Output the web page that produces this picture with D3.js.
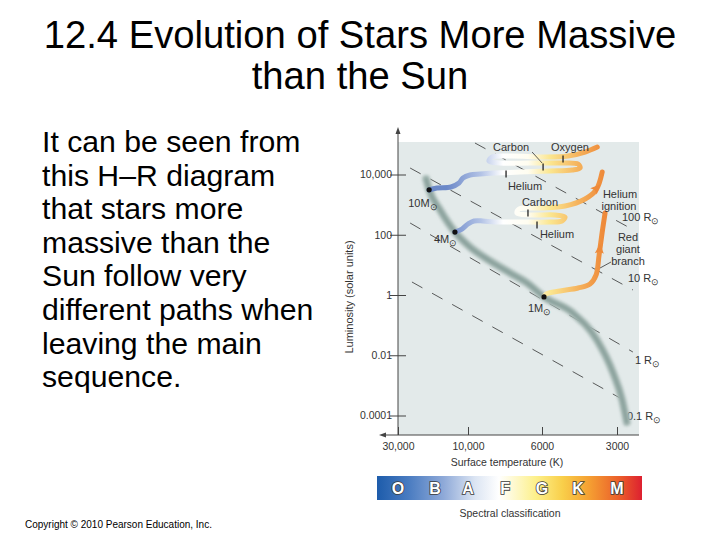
<!DOCTYPE html>
<html>
<head>
<meta charset="utf-8">
<script src="https://cdn.jsdelivr.net/npm/d3@7"></script>
<style>
body { margin: 0; background: #fff; }
text { font-family: "Liberation Sans", Arial, Helvetica, sans-serif; }
</style>
</head>
<body>
<div id="slide"></div>
<script>
// slide text
var titleLines = ["12.4 Evolution of Stars More Massive", "than the Sun"];
var bodyLines = ["It can be seen from", "this H\u2013R diagram", "that stars more", "massive than the",
                 "Sun follow very", "different paths when", "leaving the main", "sequence."];
var copyrightText = "Copyright \u00a9 2010 Pearson Education, Inc.";

// axes
var tempTicks = [30000, 10000, 6000, 3000];
var tempTickLabels = ["30,000", "10,000", "6000", "3000"];
var lumTicks = [0.0001, 0.01, 1, 100, 10000];
var lumTickLabels = ["0.0001", "0.01", "1", "100", "10,000"];

// main sequence  [T (K), L (solar)]
var mainSequence = [[19300, 7100], [18400, 3100], [15500, 665], [12270, 123], [9860, 39], [8590, 13.5],
                    [7480, 5.4], [6650, 2.5], [5890, 0.86], [4510, 0.25], [3610, 0.032], [3110, 0.0026],
                    [2860, 0.00033], [2740, 0.00006]];

// evolutionary tracks [T, L]
var track10 = [[18400, 3060], [16300, 3560], [13060, 3850], [11520, 5220], [10820, 7650], [9860, 9620],
               [9200, 10400], [8300, 11200], [6980, 12100], [5570, 13070], [4545, 14100], [4220, 16400],
               [4300, 22300], [5080, 24100], [6520, 24100], [8020, 24100], [8650, 28100], [8470, 38100],
               [7480, 41100], [5830, 38100], [4720, 41100], [4030, 55800], [3600, 81800]];
var track4 = [[12270, 123], [10990, 155], [10000, 227], [9590, 286], [9020, 286], [8300, 265], [6980, 265],
              [5570, 265], [4990, 286], [4850, 388], [5320, 453], [6520, 453], [7130, 527], [7030, 716],
              [6080, 773], [4850, 900], [4030, 1540], [3640, 3060], [3440, 12100]];
var track1 = [[5890, 0.86], [5780, 1.08], [5080, 1.36], [4300, 1.71], [3850, 2.32], [3640, 4.61],
              [3540, 21.3], [3440, 123], [3350, 527]];

// arrows on tracks: tail [T,L], head [T,L]
var arrowTail = [[3560, 10], [3920, 1790]];
var arrowHead = [[3520, 35], [3610, 3600]];

// stellar masses
var massNames = ["10", "4", "1"];
var massT = [18400, 12270, 5890];
var massL = [3100, 123, 0.86];
var massLabelOffset = [[-21, 17], [-21, 11], [-16, 15]];

// lines of constant radius
var radiusNames = ["100", "10", "1", "0.1"];
var radiusStart = [[9530, 111000], [24800, 16400], [24800, 245], [24100, 2.7]];
var radiusEnd = [[2660, 167], [2590, 1.47], [2590, 0.0128], [2590, 0.00022]];
var radiusLabelOffset = [[-8, -7], [-5, -8], [2, 12], [-6, 15]];

// burning phases marked on the tracks
var phaseNames = ["Helium", "Carbon", "Oxygen", "Carbon", "Helium"];
var phaseT = [7690, 5940, 4940, 6610, 6210];
var phaseL = [10400, 17700, 32700, 527, 211];
var phaseLabelOffset = [[19, 16], [-32, -16], [7, -8], [12, -7], [20, 13]];

// spectral classes
var spectralClasses = ["O", "B", "A", "F", "G", "K", "M"];
var spectralT = [30000, 16800, 10000, 7740, 6000, 4300, 3000];

var width = 720, height = 540;
var plotLeft = 398, plotRight = 639, plotTop = 142, plotBottom = 435;

var svg = d3.select("#slide").append("svg")
    .attr("width", width)
    .attr("height", height);

var defs = svg.append("defs");
defs.append("filter").attr("id", "blurMs").attr("x", "-20%").attr("y", "-20%").attr("width", "140%").attr("height", "140%")
    .append("feGaussianBlur").attr("stdDeviation", 1.5);
defs.append("filter").attr("id", "blurTrack").attr("x", "-20%").attr("y", "-20%").attr("width", "140%").attr("height", "140%")
    .append("feGaussianBlur").attr("stdDeviation", 0.7);

// scales (temperature axis is non-uniform in the figure, so polylinear log)
var x = d3.scaleLog().domain(tempTicks).range([398, 468, 542, 617]);
var y = d3.scaleLog().domain([0.0001, 10000]).range([415.5, 174.5]);

// ---- title + body text
svg.selectAll(".title")
    .data(titleLines)
    .enter().append("text")
    .attr("class", "title")
    .attr("x", 360)
    .attr("y", function(d, i) { return 48 + i * 41; })
    .style("text-anchor", "middle")
    .style("font-size", "38.2px")
    .style("fill", "#000")
    .text(function(d) { return d; });

svg.selectAll(".body")
    .data(bodyLines)
    .enter().append("text")
    .attr("class", "body")
    .attr("x", 42)
    .attr("y", function(d, i) { return 152 + i * 33.6; })
    .style("font-size", "30.2px")
    .style("fill", "#000")
    .text(function(d) { return d; });

svg.append("text")
    .attr("x", 25)
    .attr("y", 528)
    .style("font-size", "10px")
    .style("fill", "#000")
    .text(copyrightText);

// ---- plot panel
svg.append("rect")
    .attr("x", plotLeft)
    .attr("y", plotTop)
    .attr("width", plotRight - plotLeft)
    .attr("height", plotBottom - plotTop)
    .style("fill", "#e3eaea");

var g = svg.append("g");

// radius lines
g.selectAll(".radius")
    .data(radiusNames)
    .enter().append("line")
    .attr("class", "radius")
    .attr("x1", function(d, i) { return x(radiusStart[i][0]); })
    .attr("y1", function(d, i) { return y(radiusStart[i][1]); })
    .attr("x2", function(d, i) { return x(radiusEnd[i][0]); })
    .attr("y2", function(d, i) { return y(radiusEnd[i][1]); })
    .style("stroke", "#333")
    .style("stroke-width", 0.8)
    .style("stroke-dasharray", "12,11");

var radiusText = g.selectAll(".radiusLabel")
    .data(radiusNames)
    .enter().append("text")
    .attr("class", "radiusLabel")
    .attr("x", function(d, i) { return x(radiusEnd[i][0]) + radiusLabelOffset[i][0]; })
    .attr("y", function(d, i) { return y(radiusEnd[i][1]) + radiusLabelOffset[i][1]; })
    .style("font-size", "11px")
    .style("fill", "#333");
radiusText.append("tspan").text(function(d) { return d + " R"; });
radiusText.append("tspan").attr("dy", 3).style("font-size", "9px").text("\u2299");

// main sequence band (x only grows along it, so a monotone curve keeps it smooth)
var msLine = d3.line()
    .x(function(d) { return x(d[0]); })
    .y(function(d) { return y(d[1]); })
    .curve(d3.curveMonotoneX);

var line = d3.line()
    .x(function(d) { return x(d[0]); })
    .y(function(d) { return y(d[1]); })
    .curve(d3.curveCatmullRom);

g.append("path")
    .attr("d", msLine(mainSequence))
    .style("fill", "none")
    .style("stroke", "#aabcb8")
    .style("stroke-width", 8)
    .style("stroke-linecap", "round")
    .attr("filter", "url(#blurMs)");
g.append("path")
    .attr("d", msLine(mainSequence))
    .style("fill", "none")
    .style("stroke", "#849c97")
    .style("stroke-width", 3)
    .style("stroke-linecap", "round")
    .attr("filter", "url(#blurMs)");

// colour along tracks: blue (hot) -> white -> yellow -> orange (cool)
var grad = defs.append("linearGradient")
    .attr("id", "trackGrad")
    .attr("gradientUnits", "userSpaceOnUse")
    .attr("x1", x(14000)).attr("y1", 0)
    .attr("x2", x(3400)).attr("y2", 0);
var gradStops = [[0, "#6b88c8"], [0.22, "#b3c3e6"], [0.36, "#ffffff"], [0.52, "#fffdf0"],
                 [0.66, "#fbe68f"], [0.84, "#f5b25c"], [1, "#ee8a3a"]];
grad.selectAll("stop")
    .data(gradStops)
    .enter().append("stop")
    .attr("offset", function(d) { return d[0]; })
    .attr("stop-color", function(d) { return d[1]; });

var tracks = [track10, track4, track1];
g.selectAll(".track")
    .data(tracks)
    .enter().append("path")
    .attr("class", "track")
    .attr("d", function(d) { return line(d); })
    .style("fill", "none")
    .style("stroke", "url(#trackGrad)")
    .style("stroke-width", 5)
    .style("stroke-linecap", "round")
    .style("stroke-linejoin", "round")
    .attr("filter", "url(#blurTrack)");

// arrowheads
g.selectAll(".arrow")
    .data(arrowHead)
    .enter().append("path")
    .attr("class", "arrow")
    .attr("d", "M5,0 L-5,-4.5 L-3,0 L-5,4.5 Z")
    .attr("transform", function(d, i) {
        var hx = x(d[0]), hy = y(d[1]);
        var tx = x(arrowTail[i][0]), ty = y(arrowTail[i][1]);
        var a = Math.atan2(hy - ty, hx - tx) * 180 / Math.PI;
        return "translate(" + hx + "," + hy + ") rotate(" + a + ")";
    })
    .style("fill", "#ee8a3a");

// phase tick marks + labels
g.selectAll(".phaseTick")
    .data(phaseNames)
    .enter().append("line")
    .attr("class", "phaseTick")
    .attr("x1", function(d, i) { return x(phaseT[i]); })
    .attr("x2", function(d, i) { return x(phaseT[i]); })
    .attr("y1", function(d, i) { return y(phaseL[i]) - 3.5; })
    .attr("y2", function(d, i) { return y(phaseL[i]) + 3.5; })
    .style("stroke", "#222")
    .style("stroke-width", 1.3);

g.selectAll(".phaseLabel")
    .data(phaseNames)
    .enter().append("text")
    .attr("class", "phaseLabel")
    .attr("x", function(d, i) { return x(phaseT[i]) + phaseLabelOffset[i][0]; })
    .attr("y", function(d, i) { return y(phaseL[i]) + phaseLabelOffset[i][1]; })
    .style("text-anchor", "middle")
    .style("font-size", "11px")
    .style("fill", "#333")
    .text(function(d) { return d; });

// leader from upper "Carbon" label to its tick
g.append("line")
    .attr("x1", x(phaseT[1]) - 11).attr("y1", y(phaseL[1]) - 15)
    .attr("x2", x(phaseT[1]) - 1).attr("y2", y(phaseL[1]) - 4)
    .style("stroke", "#333")
    .style("stroke-width", 0.8);

// red giant / helium ignition notes
var notes = [["Helium", 620, 198], ["ignition", 619, 210], ["Red", 628, 241], ["giant", 628, 253], ["branch", 628, 265]];
g.selectAll(".note")
    .data(notes)
    .enter().append("text")
    .attr("class", "note")
    .attr("x", function(d) { return d[1]; })
    .attr("y", function(d) { return d[2]; })
    .style("text-anchor", "middle")
    .style("font-size", "11px")
    .style("fill", "#333")
    .text(function(d) { return d[0]; });
g.append("line")
    .attr("x1", 611).attr("y1", 262)
    .attr("x2", x(track1[6][0]) + 1).attr("y2", 268)
    .style("stroke", "#333")
    .style("stroke-width", 0.8);

// mass dots + labels
g.selectAll(".massDot")
    .data(massNames)
    .enter().append("circle")
    .attr("class", "massDot")
    .attr("cx", function(d, i) { return x(massT[i]); })
    .attr("cy", function(d, i) { return y(massL[i]); })
    .attr("r", 2.6)
    .style("fill", "#111");

var massText = g.selectAll(".massLabel")
    .data(massNames)
    .enter().append("text")
    .attr("class", "massLabel")
    .attr("x", function(d, i) { return x(massT[i]) + massLabelOffset[i][0]; })
    .attr("y", function(d, i) { return y(massL[i]) + massLabelOffset[i][1]; })
    .style("font-size", "11px")
    .style("fill", "#333");
massText.append("tspan").text(function(d) { return d + "M"; });
massText.append("tspan").attr("dy", 3).style("font-size", "9px").text("\u2299");

// ---- axes
var yAxis = svg.append("g")
    .attr("transform", "translate(" + plotLeft + ",0)")
    .call(d3.axisLeft(y).tickValues(lumTicks).tickSize(8).tickPadding(-2)
        .tickFormat(function(d, i) { return lumTickLabels[i]; }));
yAxis.select(".domain").remove();
yAxis.selectAll(".tick line").attr("x1", 8).style("stroke", "#444");
yAxis.selectAll(".tick text").style("font-size", "10.5px").style("fill", "#333")
    .style("font-family", "'Liberation Sans', Arial, sans-serif");

var xAxis = svg.append("g")
    .attr("transform", "translate(0," + plotBottom + ")")
    .call(d3.axisBottom(x).tickValues(tempTicks).tickSize(-8).tickPadding(8)
        .tickFormat(function(d, i) { return tempTickLabels[i]; }));
xAxis.select(".domain").remove();
xAxis.selectAll(".tick line").style("stroke", "#444");
xAxis.selectAll(".tick text").style("font-size", "10.5px").style("fill", "#333")
    .style("font-family", "'Liberation Sans', Arial, sans-serif");

// axis lines with arrow heads
svg.append("line")
    .attr("x1", plotLeft).attr("y1", plotBottom)
    .attr("x2", plotLeft).attr("y2", 132)
    .style("stroke", "#444").style("stroke-width", 1);
svg.append("path")
    .attr("d", "M" + plotLeft + ",127 L" + (plotLeft - 2.5) + ",134 L" + (plotLeft + 2.5) + ",134 Z")
    .style("fill", "#444");
svg.append("line")
    .attr("x1", plotRight).attr("y1", plotBottom)
    .attr("x2", 384).attr("y2", plotBottom)
    .style("stroke", "#444").style("stroke-width", 1);
svg.append("path")
    .attr("d", "M379," + plotBottom + " L386," + (plotBottom - 2.5) + " L386," + (plotBottom + 2.5) + " Z")
    .style("fill", "#444");

// axis titles
svg.append("text")
    .attr("transform", "translate(353,297) rotate(-90)")
    .style("text-anchor", "middle")
    .style("font-size", "11px")
    .style("fill", "#333")
    .text("Luminosity (solar units)");

svg.append("text")
    .attr("x", 507)
    .attr("y", 466)
    .style("text-anchor", "middle")
    .style("font-size", "10.5px")
    .style("fill", "#333")
    .text("Surface temperature (K)");

// ---- spectral classification bar
var specGrad = defs.append("linearGradient")
    .attr("id", "specGrad")
    .attr("x1", "0%").attr("x2", "100%");
var specStops = [[0, "#1d5cab"], [0.12, "#4a7cc1"], [0.25, "#8ea9d8"], [0.37, "#dce5f3"], [0.46, "#ffffff"],
                 [0.6, "#fdf08a"], [0.7, "#f9cf4a"], [0.8, "#f5a032"], [0.92, "#ea5a2a"], [1, "#dd2030"]];
specGrad.selectAll("stop")
    .data(specStops)
    .enter().append("stop")
    .attr("offset", function(d) { return d[0]; })
    .attr("stop-color", function(d) { return d[1]; });

svg.append("rect")
    .attr("x", 377)
    .attr("y", 476)
    .attr("width", 265)
    .attr("height", 24)
    .style("fill", "url(#specGrad)");

svg.selectAll(".spec")
    .data(spectralClasses)
    .enter().append("text")
    .attr("class", "spec")
    .attr("x", function(d, i) { return x(spectralT[i]); })
    .attr("y", 494)
    .style("text-anchor", "middle")
    .style("font-size", "16px")
    .style("font-weight", "900")
    .style("fill", "#fff")
    .style("stroke", "#3a3a3a")
    .style("stroke-width", 1.6)
    .style("paint-order", "stroke")
    .text(function(d) { return d; });

svg.append("text")
    .attr("x", 510)
    .attr("y", 517)
    .style("text-anchor", "middle")
    .style("font-size", "10.5px")
    .style("fill", "#333")
    .text("Spectral classification");
</script>
</body>
</html>
